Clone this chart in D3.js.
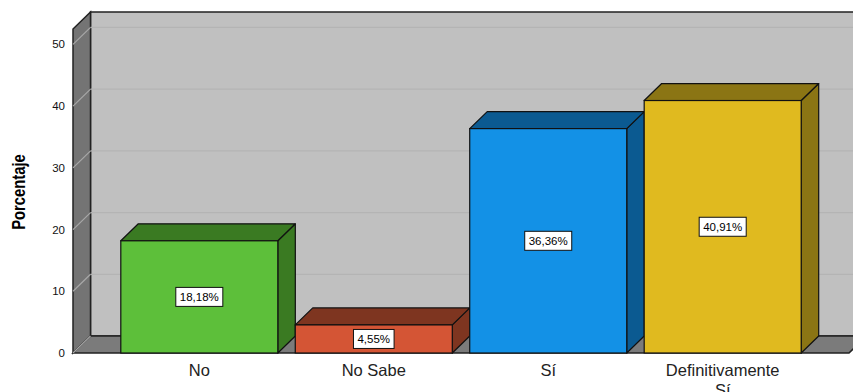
<!DOCTYPE html>
<html><head><meta charset="utf-8">
<script src="https://cdn.jsdelivr.net/npm/d3@7"></script>
<style>body{margin:0;background:#fff}svg{display:block}</style>
</head><body><svg id="c" width="853" height="392"></svg>
<script>
const categories = ["No", "No Sabe", "Sí", "Definitivamente Sí"];
const values = [18.18, 4.55, 36.36, 40.91];
const valueLabels = ["18,18%", "4,55%", "36,36%", "40,91%"];
const frontColors = ["#5dbf3a", "#d45535", "#1391e6", "#e0ba1f"];
const sideColors = ["#3a7a22", "#7e3520", "#0b5a91", "#8b7514"];
const yTicks = [0, 10, 20, 30, 40, 50];

const svg = d3.select("#c");
const dx = 17.5, dy = -17;
const x = d3.scaleBand().domain(categories).range([73, 849]).paddingInner(0.1).paddingOuter(0.274);
const y = d3.scaleLinear().domain([0, 52.5]).range([353, 29]);
const x0 = 73, x1 = 849, yb = y(0), yt = y(52.5);

// back wall
svg.append("rect").attr("x", x0 + dx).attr("y", yt + dy).attr("width", x1 - x0).attr("height", yb - yt)
  .attr("fill", "#c0c0c0").attr("stroke", "#222").attr("stroke-width", 1.5);
// left wall
svg.append("path").attr("d", `M${x0},${yb}L${x0},${yt}L${x0+dx},${yt+dy}L${x0+dx},${yb+dy}Z`)
  .attr("fill", "#747474").attr("stroke", "#222").attr("stroke-width", 1.5);
// gridlines
yTicks.forEach(t => {
  if (t === 0) return;
  svg.append("line").attr("x1", x0 + dx).attr("x2", x1 + dx).attr("y1", y(t) + dy).attr("y2", y(t) + dy)
    .attr("stroke", "#b4b4b4").attr("stroke-width", 1.2);
  svg.append("line").attr("x1", x0).attr("x2", x0 + dx).attr("y1", y(t)).attr("y2", y(t) + dy)
    .attr("stroke", "#a8a8a8").attr("stroke-width", 1.2);
});
// floor
svg.append("path").attr("d", `M${x0},${yb}L${x1},${yb}L${x1+dx},${yb+dy}L${x0+dx},${yb+dy}Z`)
  .attr("fill", "#7b7b7b").attr("stroke", "#222").attr("stroke-width", 1.5);
svg.append("line").attr("x1", x0).attr("x2", x0 + dx).attr("y1", yb).attr("y2", yb + dy)
  .attr("stroke", "#a8a8a8").attr("stroke-width", 1.2);

// tick labels
svg.selectAll("text.tick").data(yTicks).enter().append("text")
  .attr("x", 65).attr("y", d => y(d) + 4).attr("text-anchor", "end")
  .attr("font-family", "Liberation Sans, Arial, sans-serif").attr("font-size", 11.5).attr("fill", "#111")
  .text(d => d);

// bars
const bw = x.bandwidth();
categories.forEach((c, i) => {
  const bx = x(c), by = y(values[i]);
  const g = svg.append("g");
  g.append("path").attr("d", `M${bx+bw},${yb}L${bx+bw},${by}L${bx+bw+dx},${by+dy}L${bx+bw+dx},${yb+dy}Z`)
    .attr("fill", sideColors[i]).attr("stroke", "#111").attr("stroke-width", 1.2).attr("stroke-linejoin", "round");
  g.append("path").attr("d", `M${bx},${by}L${bx+dx},${by+dy}L${bx+bw+dx},${by+dy}L${bx+bw},${by}Z`)
    .attr("fill", sideColors[i]).attr("stroke", "#111").attr("stroke-width", 1.2).attr("stroke-linejoin", "round");
  g.append("rect").attr("x", bx).attr("y", by).attr("width", bw).attr("height", yb - by)
    .attr("fill", frontColors[i]).attr("stroke", "#111").attr("stroke-width", 1.2);
  const cx = bx + bw / 2, cy = (by + yb) / 2;
  const t = g.append("text").attr("x", cx).attr("y", cy + 4).attr("text-anchor", "middle")
    .attr("font-family", "Liberation Sans, Arial, sans-serif").attr("font-size", 11.5).attr("fill", "#000")
    .text(valueLabels[i]);
  const bb = t.node().getBBox();
  g.insert("rect", "text").attr("x", bb.x - 4).attr("y", cy - 9.5).attr("width", bb.width + 8).attr("height", 19)
    .attr("fill", "#fff").attr("stroke", "#111").attr("stroke-width", 1);
});

// x labels
categories.forEach(c => {
  const words = c === "Definitivamente Sí" ? ["Definitivamente", "Sí"] : [c];
  const t = svg.append("text").attr("x", x(c) + bw / 2).attr("y", 376).attr("text-anchor", "middle")
    .attr("font-family", "Liberation Sans, Arial, sans-serif").attr("font-size", 16.5).attr("fill", "#222");
  words.forEach((w, k) => t.append("tspan").attr("x", x(c) + bw / 2).attr("dy", k === 0 ? 0 : 19.5).text(w));
});

// y axis title (condensed)
svg.append("text").attr("transform", "translate(24.5,192) rotate(-90) scale(0.8,1)").attr("text-anchor", "middle")
  .attr("font-family", "Liberation Sans, Arial, sans-serif").attr("font-weight", "bold")
  .attr("font-size", 18.5).attr("fill", "#000").text("Porcentaje");
</script></body></html>
